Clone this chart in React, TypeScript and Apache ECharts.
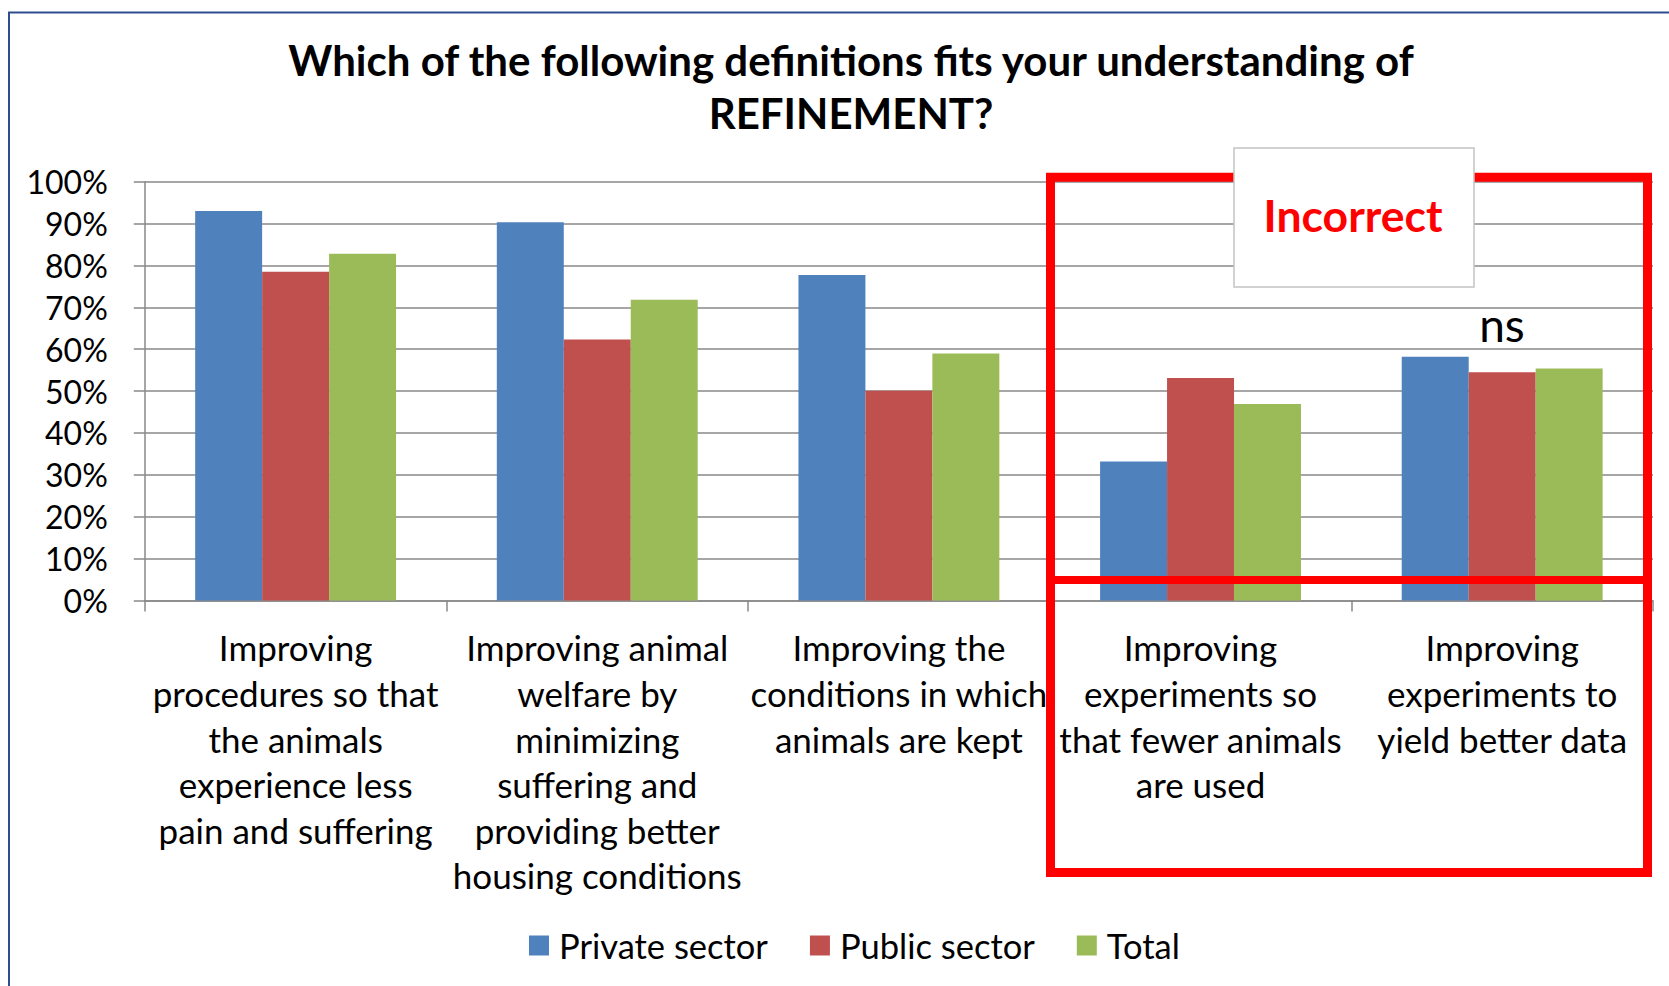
import React, { useEffect, useRef } from "react";
import * as echarts from "echarts";

const categories = [
  "Improving\nprocedures so that\nthe animals\nexperience less\npain and suffering",
  "Improving animal\nwelfare by\nminimizing\nsuffering and\nproviding better\nhousing conditions",
  "Improving the\nconditions in which\nanimals are kept",
  "Improving\nexperiments so\nthat fewer animals\nare used",
  "Improving\nexperiments to\nyield better data",
];
const privateSector = [93.0, 90.3, 77.7, 33.2, 58.2];
const publicSector = [78.5, 62.3, 50.1, 53.1, 54.5];
const totalValues = [82.8, 71.8, 59.0, 46.9, 55.4];
const seriesNames = ["Private sector", "Public sector", "Total"];
const colors = ["#4F81BD", "#C0504D", "#9BBB59"];
const titleText = "Which of the following definitions fits your understanding of\nREFINEMENT?";
const boxLabel = "Incorrect";
const nsLabel = "ns";

const FONT = "Lato, 'Open Sans', sans-serif";

export default function App() {
  const ref = useRef<HTMLDivElement>(null);
  useEffect(() => {
    if (!ref.current) return;
    const chart = echarts.init(ref.current, null, { renderer: "svg" });
    const values = [privateSector, publicSector, totalValues];
    chart.setOption({
      animation: false,
      backgroundColor: "#ffffff",
      title: {
        text: titleText,
        left: 846,
        top: 28,
        textAlign: "center",
        textStyle: {
          fontFamily: FONT,
          fontWeight: "bold",
          fontSize: 42,
          lineHeight: 53,
          color: "#000",
        },
      },
      legend: {
        left: 524,
        top: 923,
        itemWidth: 20,
        itemHeight: 20,
        itemGap: 42,
        icon: "rect",
        data: seriesNames,
        textStyle: {
          fontFamily: FONT,
          fontSize: 34.5,
          lineHeight: 20,
          color: "#000",
          padding: [0, 0, 0, 5],
        },
      },
      grid: { left: 144.8, right: 16, top: 181.7, bottom: 385.5, containLabel: false },
      xAxis: {
        type: "category",
        data: categories,
        axisLine: { show: true, lineStyle: { color: "#888", width: 1.5 } },
        axisTick: { show: true, length: 11, lineStyle: { color: "#888", width: 1.5 } },
        axisLabel: {
          interval: 0,
          margin: 24,
          fontFamily: FONT,
          fontSize: 35,
          lineHeight: 45.6,
          color: "#000",
          align: "center",
        },
      },
      yAxis: {
        type: "value",
        min: 0,
        max: 100,
        interval: 10,
        axisLine: { show: true, lineStyle: { color: "#888", width: 1.5 } },
        axisTick: { show: true, length: 11, lineStyle: { color: "#888", width: 1.5 } },
        splitLine: { show: true, lineStyle: { color: "#888", width: 1.5 } },
        axisLabel: {
          formatter: "{value}%",
          margin: 37,
          fontFamily: FONT,
          fontSize: 32,
          color: "#000",
        },
      },
      series: seriesNames.map((name, i) => ({
        name,
        type: "bar",
        data: values[i],
        barGap: "0%",
        barCategoryGap: "33.4%",
        itemStyle: { color: colors[i] },
      })),
      graphic: [
        {
          type: "rect",
          z: 100,
          shape: { x: 9, y: 12.5, width: 1700, height: 1000 },
          style: { fill: "none", stroke: "#2E4E8F", lineWidth: 2 },
        },
        {
          type: "rect",
          z: 100,
          shape: { x: 1050.5, y: 177.2, width: 597, height: 695.3 },
          style: { fill: "none", stroke: "#FF0000", lineWidth: 9 },
        },
        {
          type: "line",
          z: 100,
          shape: { x1: 1046, y1: 580, x2: 1652, y2: 580 },
          style: { stroke: "#FF0000", lineWidth: 8 },
        },
        {
          type: "rect",
          z: 101,
          shape: { x: 1234, y: 148, width: 240, height: 139 },
          style: { fill: "#ffffff", stroke: "#c4c4c4", lineWidth: 1.5 },
        },
        {
          type: "text",
          z: 102,
          x: 1353,
          y: 214,
          style: {
            text: boxLabel,
            fill: "#FF0000",
            fontFamily: FONT,
            fontWeight: "bold",
            fontSize: 44.5,
            align: "center",
            verticalAlign: "middle",
          },
        },
        {
          type: "text",
          z: 102,
          x: 1502,
          y: 324,
          style: {
            text: nsLabel,
            fill: "#000",
            fontFamily: FONT,
            fontSize: 46,
            align: "center",
            verticalAlign: "middle",
          },
        },
      ],
    });
    return () => chart.dispose();
  }, []);
  return (
    <div
      ref={ref}
      style={{ position: "absolute", left: 0, top: 0, width: 1669, height: 986 }}
    />
  );
}
